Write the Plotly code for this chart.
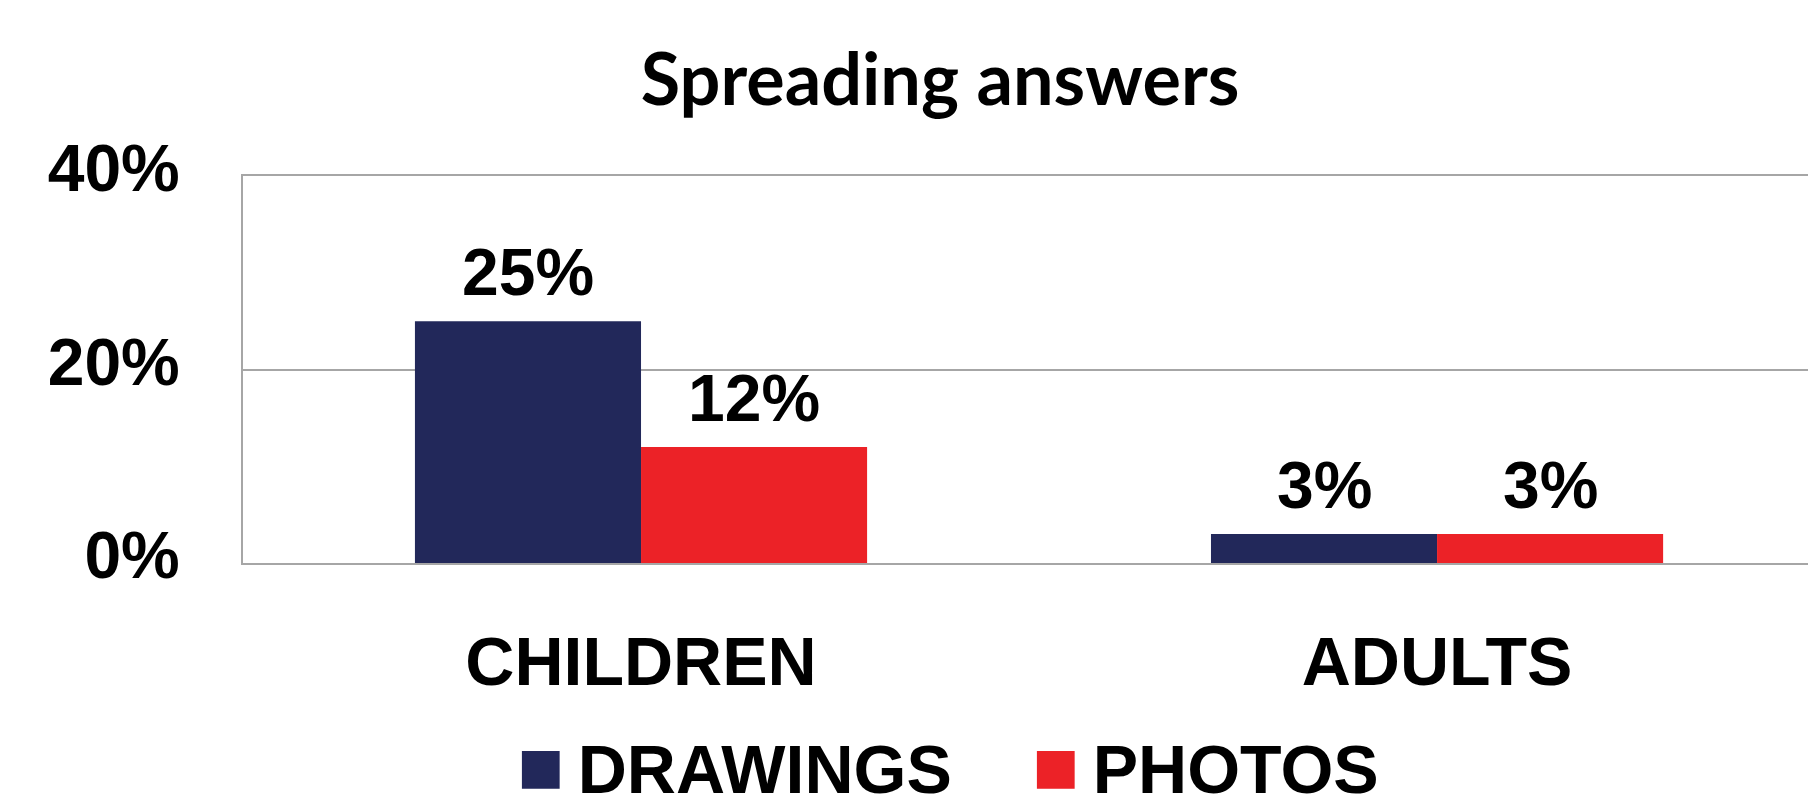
import plotly.graph_objects as go

categories = ["CHILDREN", "ADULTS"]
drawings = [0.25, 0.03]
photos = [0.12, 0.03]
series_names = ["DRAWINGS", "PHOTOS"]
colors = ["#22285a", "#ec2227"]
y_ticks = [0, 0.2, 0.4]
y_tick_labels = ["0%", "20%", "40%"]

W, H = 1808, 800
ML, MR, MT, MB = 243, 0, 176, 237
x_range = [-0.5, 1.466]
bargap = 0.432
ARIAL = "Liberation Sans, Arial"

fig = go.Figure()
for name, vals, col in zip(series_names, [drawings, photos], colors):
    fig.add_trace(go.Bar(x=categories, y=vals, name=name, marker_color=col,
                         marker_line_width=0, showlegend=False))

plot_w = W - ML - MR
plot_h = H - MT - MB
px_per_unit = plot_w / (x_range[1] - x_range[0])
bar_px = (1 - bargap) / 2 * px_per_unit
label_font = dict(family=ARIAL, size=66, color="black", weight="bold")
for i, vals in enumerate([drawings, photos]):
    shift = (-0.5 if i == 0 else 0.5) * bar_px
    for c, v in zip(categories, vals):
        fig.add_annotation(x=c, y=v, xref="x", yref="y", text=f"{v*100:.0f}%",
                           showarrow=False, yanchor="bottom", xshift=shift, yshift=10,
                           font=label_font)

# legend drawn as text (pixel positions converted to plot-area paper coords)
leg_y_px = 766
leg = [(series_names[0], colors[0], 515), (series_names[1], colors[1], 1030)]
for name, col, x_px in leg:
    fig.add_annotation(x=(x_px - ML) / plot_w, y=-(leg_y_px - (MT + plot_h)) / plot_h,
                       xref="paper", yref="paper",
                       text=f"<span style='color:{col};font-size:78px'>■</span>\u2009{name}",
                       showarrow=False, xanchor="left", yanchor="middle",
                       font=dict(family=ARIAL, size=68, color="black", weight="bold"))

fig.update_layout(
    width=W, height=H,
    margin=dict(l=ML, r=MR, t=MT, b=MB),
    paper_bgcolor="white", plot_bgcolor="white",
    barmode="group", bargap=bargap, bargroupgap=0,
    title=dict(text="Spreading answers", x=940 / W, xanchor="center",
               y=1 - 80 / H, yanchor="middle",
               font=dict(family="Lato", size=72, color="black", weight="bold")),
    xaxis=dict(range=x_range, showline=True, mirror=True, linecolor="#a6a6a6", linewidth=2,
               showgrid=False, ticks="", ticklabelstandoff=38,
               tickfont=dict(family=ARIAL, size=68, color="black", weight="bold")),
    yaxis=dict(range=[0, 0.4], tickvals=y_ticks, ticktext=y_tick_labels,
               showline=True, linecolor="#a6a6a6", linewidth=2,
               showgrid=True, gridcolor="#a6a6a6", gridwidth=2, zeroline=False,
               ticks="", ticklabelstandoff=48, ticklabelshift=-8,
               tickfont=dict(family=ARIAL, size=66, color="black", weight="bold")),
)

fig.write_html("out.html")
